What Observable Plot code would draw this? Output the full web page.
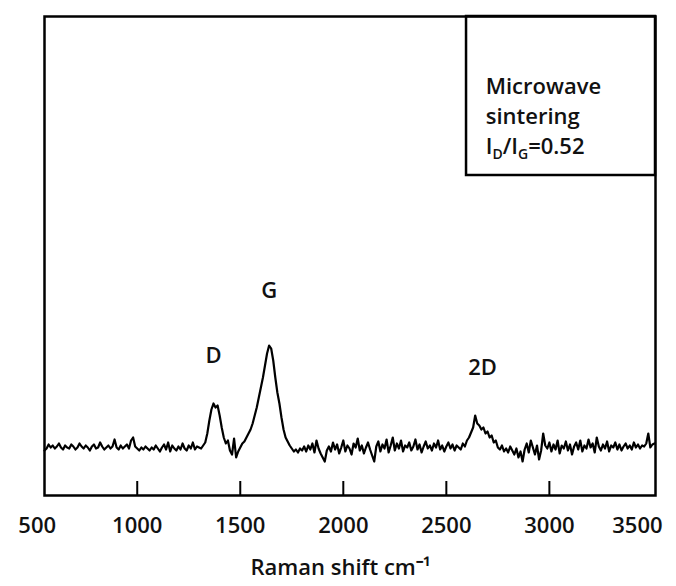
<!DOCTYPE html>
<html><head><meta charset="utf-8">
<script src="https://cdn.jsdelivr.net/npm/d3@7"></script>
<script src="https://cdn.jsdelivr.net/npm/@observablehq/plot@0.6"></script>
<style>body{margin:0;background:#fff} #chart{width:676px;height:586px}</style>
</head><body><div id="chart"></div>
<script>
const shifts = [
 550,560,570,580,590,600,610,620,630,640,
 650,660,670,680,690,700,710,720,730,740,
 750,760,770,780,790,800,810,820,830,840,
 850,860,870,880,890,900,910,920,930,940,
 950,960,970,980,990,1000,1010,1020,1030,1040,
 1050,1060,1070,1080,1090,1100,1110,1120,1130,1140,
 1150,1160,1170,1180,1190,1200,1210,1220,1230,1240,
 1250,1260,1270,1280,1290,1300,1310,1320,1330,1340,
 1350,1360,1370,1380,1390,1400,1410,1420,1430,1440,
 1450,1460,1470,1480,1490,1500,1510,1520,1530,1540,
 1550,1560,1570,1580,1590,1600,1610,1620,1630,1640,
 1650,1660,1670,1680,1690,1700,1710,1720,1730,1740,
 1750,1760,1770,1780,1790,1800,1810,1820,1830,1840,
 1850,1860,1870,1880,1890,1900,1910,1920,1930,1940,
 1950,1960,1970,1980,1990,2000,2010,2020,2030,2040,
 2050,2060,2070,2080,2090,2100,2110,2120,2130,2140,
 2150,2160,2170,2180,2190,2200,2210,2220,2230,2240,
 2250,2260,2270,2280,2290,2300,2310,2320,2330,2340,
 2350,2360,2370,2380,2390,2400,2410,2420,2430,2440,
 2450,2460,2470,2480,2490,2500,2510,2520,2530,2540,
 2550,2560,2570,2580,2590,2600,2610,2620,2630,2640,
 2650,2660,2670,2680,2690,2700,2710,2720,2730,2740,
 2750,2760,2770,2780,2790,2800,2810,2820,2830,2840,
 2850,2860,2870,2880,2890,2900,2910,2920,2930,2940,
 2950,2960,2970,2980,2990,3000,3010,3020,3030,3040,
 3050,3060,3070,3080,3090,3100,3110,3120,3130,3140,
 3150,3160,3170,3180,3190,3200,3210,3220,3230,3240,
 3250,3260,3270,3280,3290,3300,3310,3320,3330,3340,
 3350,3360,3370,3380,3390,3400,3410,3420,3430,3440,
 3450,3460,3470,3480,3490,3500,3510
];
const intensity = [
 45,47,51,48,50,47,49,52,48,46,
 50,48,47,51,49,46,48,52,49,47,
 50,48,45,49,51,47,48,53,49,46,
 48,50,47,49,56,48,46,50,47,49,
 51,47,55,58,49,47,45,48,46,49,
 47,45,48,46,50,47,44,48,51,46,
 53,44,50,47,45,49,46,52,47,45,
 50,47,53,46,49,48,47,50,53,62,
 75,86,92,88,90,80,68,58,52,55,
 45,41,57,38,44,48,52,54,58,62,
 66,72,80,88,98,108,118,130,142,150,
 147,135,118,103,92,78,66,58,54,50,
 47,44,46,43,47,45,49,44,50,46,
 52,43,55,47,42,38,34,45,49,44,
 53,46,51,42,48,55,44,50,47,41,
 52,48,57,45,50,42,48,53,46,40,
 34,49,54,44,51,47,56,43,50,58,
 45,52,47,55,44,50,48,53,45,49,
 56,46,51,43,49,54,47,50,45,52,
 48,55,46,50,44,49,53,47,51,45,
 50,48,46,52,49,55,58,63,68,80,
 72,70,66,68,62,64,58,60,53,55,
 48,46,50,44,47,43,49,45,41,47,
 38,44,34,46,52,43,55,48,41,50,
 36,45,62,50,47,53,44,51,46,55,
 42,50,47,54,45,51,41,49,53,46,
 55,44,50,47,56,48,52,43,58,49,
 45,51,47,54,44,50,48,53,46,51,
 45,49,52,47,50,46,53,48,51,47,
 50,49,52,62,48,51,52
];
const tickValues = [1000, 1500, 2000, 2500, 3000];
const tickLabels = [500, 1000, 1500, 2000, 2500, 3000, 3500];
const peakNames = ["D", "G", "2D"];
const peakX = [1370, 1640, 2676];
const peakY = [140, 205, 128];
const legendLines = ["Microwave", "sintering", "ID/IG=0.52"];
const legendY = [409, 379, 349];
const legendX = 2691;
const insetBox = [{x1: 2598, x2: 3515, y1: 320, y2: 479}];
const xLabel = "Raman shift cm\u207B\u00B9";

const spectrum = shifts.map((s, i) => ({shift: s, intensity: intensity[i]}));
const peaks = peakNames.map((n, i) => ({name: n, x: peakX[i], y: peakY[i]}));
const legend = legendLines.map((t, i) => ({t, y: legendY[i]}));
const font = "'Open Sans', sans-serif";
const ink = "#111";
const fw = 600;

const chart = Plot.plot({
  width: 676, height: 586,
  marginLeft: 44, marginRight: 21, marginTop: 16, marginBottom: 91,
  style: {fontFamily: font, background: "#fff"},
  x: {domain: [550, 3515], axis: null},
  y: {domain: [0, 479], axis: null},
  marks: [
    Plot.lineY(spectrum, {x: "shift", y: "intensity", stroke: "#000", strokeWidth: 2.2}),
    Plot.ruleX(tickValues, {x: d => d, y1: 0, y2: 14, stroke: "#000", strokeWidth: 2}),
    Plot.rect(insetBox, {x1: "x1", x2: "x2", y1: "y1", y2: "y2", fill: "none", stroke: "#000", strokeWidth: 2.5}),
    Plot.frame({stroke: "#000", strokeWidth: 2.5}),
    Plot.text(tickLabels.filter(d => d > 500 && d < 3500), {x: d => d, y: -30, text: d => String(d), fontSize: 22, fontWeight: fw, fill: ink}),
    Plot.text(tickLabels.filter(d => d === 500), {x: d => d, y: -30, text: d => String(d), fontSize: 22, fontWeight: fw, fill: ink, dx: 3}),
    Plot.text(tickLabels.filter(d => d === 3500), {x: d => d, y: -30, text: d => String(d), fontSize: 22, fontWeight: fw, fill: ink, dx: -15}),
    Plot.text([xLabel], {x: 1987, y: -72, text: d => d, fontSize: 22, fontWeight: fw, fill: ink}),
    Plot.text(peaks, {x: "x", y: "y", text: "name", fontSize: 22, fontWeight: fw, fill: ink}),
    Plot.text(legend, {x: legendX, y: "y", text: "t", textAnchor: "start", fontSize: 22, fontWeight: fw, fill: ink})
  ]
});
document.getElementById("chart").appendChild(chart);

// subscripts for I_D / I_G
chart.querySelectorAll("text").forEach(t => {
  if (t.textContent === "ID/IG=0.52") {
    const parts = [["I", 0, null], ["D", 5, 14], ["/I", -5, null], ["G", 5, 14], ["=0.52", -5, null]];
    while (t.firstChild) t.removeChild(t.firstChild);
    for (const [s, dy, fs] of parts) {
      const ts = document.createElementNS("http://www.w3.org/2000/svg", "tspan");
      ts.textContent = s;
      if (dy) ts.setAttribute("dy", dy);
      if (fs) ts.setAttribute("font-size", fs);
      t.appendChild(ts);
    }
  }
});
</script>
</body></html>
